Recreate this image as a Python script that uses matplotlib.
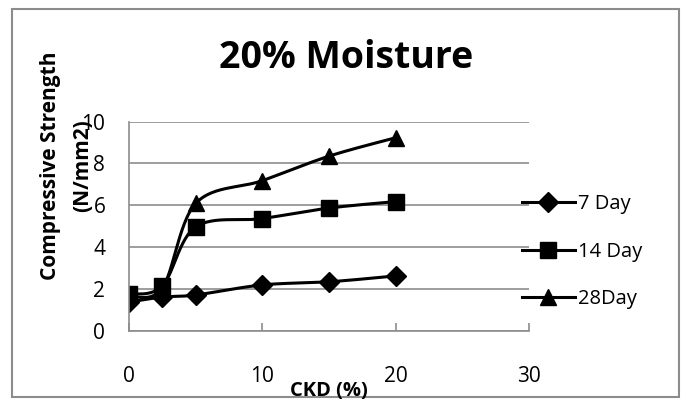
import numpy as np
import matplotlib
matplotlib.use("Agg")
import matplotlib.pyplot as plt
from matplotlib.patches import Rectangle

plt.rcParams['font.family'] = ['Open Sans', 'DejaVu Sans']

ckd = [0, 2.5, 5, 10, 15, 20]
day7 = [1.38, 1.62, 1.72, 2.2, 2.35, 2.63]
day14 = [1.75, 2.15, 4.97, 5.37, 5.87, 6.18]
day28 = [1.65, 2.05, 6.09, 7.18, 8.35, 9.23]
series_labels = ["7 Day", "14 Day", "28Day"]
markers = ["D", "s", "^"]
msizes = [10, 11, 11]
title = "20% Moisture"
xlabel = "CKD (%)"
ylabel = "Compressive Strength\n(N/mm2)"


def smooth(xs, ys, n=30):
    xs = np.asarray(xs, float)
    ys = np.asarray(ys, float)
    px, py = [], []
    for i in range(len(xs) - 1):
        x0, y0 = xs[max(i - 1, 0)], ys[max(i - 1, 0)]
        x1, y1 = xs[i], ys[i]
        x2, y2 = xs[i + 1], ys[i + 1]
        x3, y3 = xs[min(i + 2, len(xs) - 1)], ys[min(i + 2, len(xs) - 1)]
        c1x, c1y = x1 + (x2 - x0) / 6, y1 + (y2 - y0) / 6
        c2x, c2y = x2 - (x3 - x1) / 6, y2 - (y3 - y1) / 6
        t = np.linspace(0, 1, n)
        bx = (1 - t) ** 3 * x1 + 3 * (1 - t) ** 2 * t * c1x + 3 * (1 - t) * t ** 2 * c2x + t ** 3 * x2
        by = (1 - t) ** 3 * y1 + 3 * (1 - t) ** 2 * t * c1y + 3 * (1 - t) * t ** 2 * c2y + t ** 3 * y2
        px.extend(bx)
        py.extend(by)
    return px, py


fig = plt.figure(figsize=(6.85, 4.0), dpi=100)
ax = fig.add_axes([0.1883, 0.1725, 0.584, 0.5235])

grey = "#8c8c8c"
for vals, lab, mk, ms in zip([day7, day14, day28], series_labels, markers, msizes):
    sx, sy = smooth(ckd, vals)
    ax.plot(sx, sy, color="black", lw=2.2, solid_capstyle="round")
    ax.plot(ckd, vals, linestyle="none", marker=mk, ms=ms, color="black")
    ax.plot([], [], color="black", lw=2.2, marker=mk, ms=ms, label=lab)

ax.set_xlim(0, 30)
ax.set_ylim(0, 10)
ax.set_xticks([0, 10, 20, 30])
ax.set_yticks([0, 2, 4, 6, 8, 10])
ax.yaxis.grid(True, color=grey, lw=1.2)
ax.set_axisbelow(True)
for s in ["top", "right"]:
    ax.spines[s].set_visible(False)
for s in ["left", "bottom"]:
    ax.spines[s].set_color(grey)
    ax.spines[s].set_linewidth(1.2)
ax.tick_params(axis="x", direction="in", length=6, color=grey, width=1.2, pad=25, labelsize=15)
ax.tick_params(axis="y", length=0, pad=17, labelsize=15)

fig.text(0.505, 0.83, title, ha="center", va="baseline", fontsize=27, fontweight="bold")
fig.text(0.480, 0.009, xlabel, ha="center", va="baseline", fontsize=14.5, fontweight="bold")
fig.text(0.097, 0.585, ylabel, ha="center", va="center", rotation=90, fontsize=15,
         fontweight="bold", linespacing=1.7)

leg = fig.legend(loc="upper left", bbox_to_anchor=(0.762, 0.515), bbox_transform=fig.transFigure,
                 frameon=False, fontsize=14.5, handlelength=2.62, handletextpad=0.15,
                 labelspacing=1.37, borderaxespad=0, borderpad=0)

fig.patches.append(Rectangle((12.5 / 685, 3 / 400), 666 / 685, 388 / 400,
                             transform=fig.transFigure, fill=False, edgecolor=grey, lw=1.5))

fig.savefig("out.png", dpi=100)
